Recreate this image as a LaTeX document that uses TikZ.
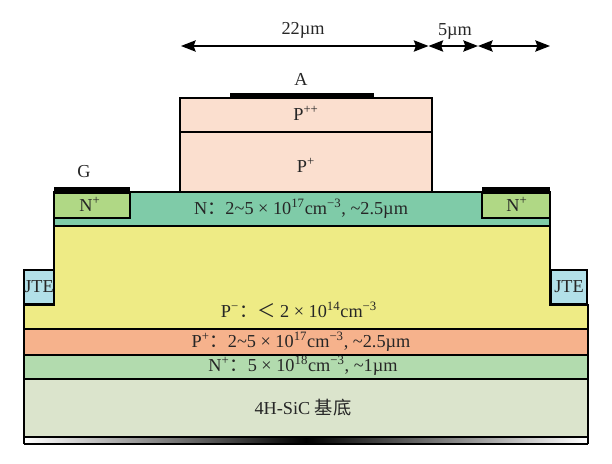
\documentclass[tikz,border=0pt]{standalone}
\usepackage{fontspec}
\setmainfont{Liberation Serif}
\newfontfamily\cjk{Noto Sans CJK SC}
\usetikzlibrary{arrows.meta}

\definecolor{peachcol}{HTML}{FBDFCF}
\definecolor{ncol}{HTML}{7FCBA8}
\definecolor{ncontactcol}{HTML}{B0D885}
\definecolor{driftcol}{HTML}{EEEB85}
\definecolor{jtecol}{HTML}{B2E0E8}
\definecolor{pcol}{HTML}{F6B28C}
\definecolor{bufcol}{HTML}{B2DBAE}
\definecolor{subcol}{HTML}{DBE4CC}

\tikzset{
  layer/.style={draw=black,line width=1.5pt},
  thinlayer/.style={draw=black,line width=1.1pt},
  metal/.style={fill=black,draw=none},
  lbl/.style={inner sep=0.75pt,font=\fontsize{13.7}{15}\selectfont,text=black!85},
  dim/.style={line width=1pt,{Stealth[length=11pt,width=8.5pt,inset=1.5pt]}-{Stealth[length=11pt,width=8.5pt,inset=1.5pt]}}
}

\begin{document}
\begin{tikzpicture}[x=0.75pt,y=0.75pt,yscale=-1,xscale=1]

            \useasboundingbox (0,0) rectangle (612,464);

            % Substrate stack
            \shade [left color=white,right color=white,middle color=black] (24,437) rectangle (588,444);
            \draw [layer] (24,444) -- (24,437) -- (588,437) -- (588,444);
            \draw [line width=2pt] (24,444) -- (588,444);
            \draw [layer,fill=subcol] (24,379) rectangle (588,437);
            \draw [layer,fill=bufcol] (24,355) rectangle (588,379);
            \draw [layer,fill=pcol] (24,329) rectangle (588,355);

            % Drift layer and JTE
            \draw [layer,fill=driftcol] (53.5,226) -- (550,226) -- (550,304.5) -- (588,304.5) -- (588,329) -- (24,329) -- (24,304.5) -- (53.5,304.5) -- cycle;
            \draw [layer,fill=jtecol] (24,270) rectangle (54,303.5);
            \draw [layer,fill=jtecol] (551,270) rectangle (587,303.5);

            % N layer and contacts
            \draw [thinlayer,fill=ncol] (54,192) rectangle (550,226);
            \draw [layer,fill=ncontactcol] (54,193) rectangle (130,218);
            \draw [layer,fill=ncontactcol] (482,193) rectangle (550,218);
            \fill [metal] (54,187) rectangle (130,193);
            \fill [metal] (482,187) rectangle (550,193);

            % Mesa
            \draw [thinlayer,fill=peachcol] (180,132) rectangle (432,192);
            \draw [thinlayer,fill=peachcol] (180,98) rectangle (432,132);
            \fill [metal] (230,93) rectangle (374,98.5);

            % Dimension arrows
            \coordinate (dimA) at (181,46);
            \coordinate (dimB) at (428.5,46);
            \coordinate (dimC) at (478,46);
            \coordinate (dimD) at (550,46);
            \draw [dim] (dimA) -- (dimB);
            \draw [dim] (dimB) -- (dimC);
            \draw [dim] (dimC) -- (dimD);

            % Labels
            \draw (303,30) node (lblwide) [lbl] {22µm};
            \draw (455,31) node (lblnarrow) [lbl] {5µm};
            \draw (301,79) node (lblanode) [lbl] {A};
            \draw (84,172) node (lblgate) [lbl] {G};
            \draw (306,113) node (lblpp) [lbl] {P\textsuperscript{++}};
            \draw (306,165) node (lblp) [lbl] {P\textsuperscript{+}};
            \draw (90,204) node (lblnl) [lbl] {N\textsuperscript{+}};
            \draw (517,204) node (lblnr) [lbl] {N\textsuperscript{+}};
            \draw (301,209) node (lbln) [lbl] {N{\cjk ：}2\char`~5 × 10\textsuperscript{17}cm\textsuperscript{−3}, \char`~2.5µm};
            \draw (39,287) node (lbljtel) [lbl] {JTE};
            \draw (569,287) node (lbljter) [lbl] {JTE};
            \draw (299,310) node (lbldrift) [lbl] {P\textsuperscript{−}{\cjk ：＜} 2 × 10\textsuperscript{14}cm\textsuperscript{−3}};
            \draw (301,342) node (lblpl) [lbl] {P\textsuperscript{+}{\cjk ：}2\char`~5 × 10\textsuperscript{17}cm\textsuperscript{−3}, \char`~2.5µm};
            \draw (303,366) node (lblbuf) [lbl] {N\textsuperscript{+}{\cjk ：}5 × 10\textsuperscript{18}cm\textsuperscript{−3}, \char`~1µm};
            \draw (303,408) node (lblsub) [lbl] {4H-SiC {\cjk 基底}};

\end{tikzpicture}
\end{document}
